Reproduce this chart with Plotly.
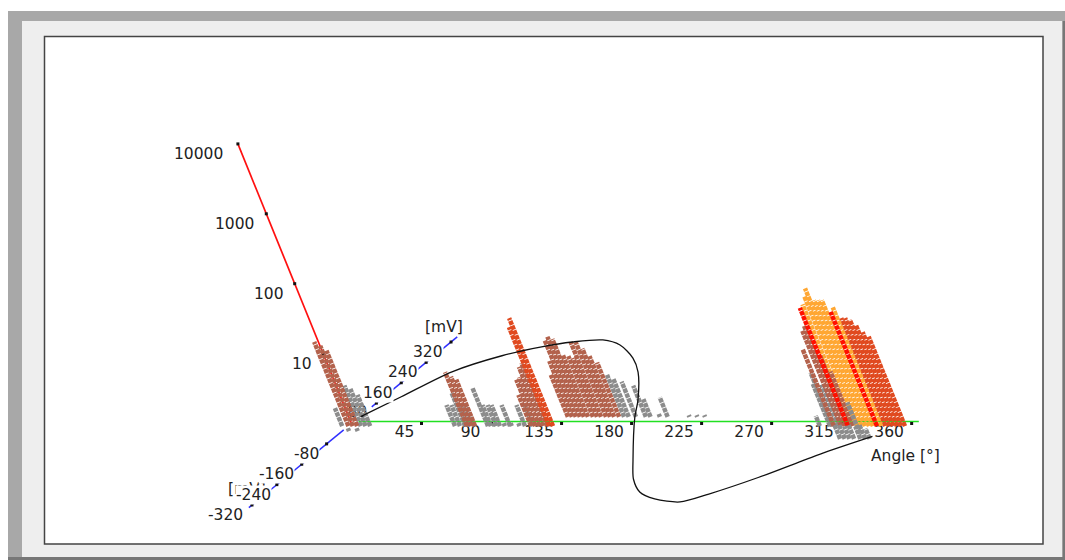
import math
import plotly.graph_objects as go

# ---- values: (angle deg, mV, count) per colour ----
gray_angle = [-4, 8, 11, 14, 4.4, 10,
              68.5, 71.7, 75, 77.5, 80.7, 89.7, 91.6, 94.9, 97.4, 103.9, 113.5, 118.6, 94, 100.6, 105, 110,
              170, 173, 177.6, 184, 187, 198, 193, 212, 217, 222,
              303, 309.5, 311, 314.6]
gray_mv = [-10, -10, -10, -10, -30, -30,
           -10, -10, -10, -10, -10, -10, -10, -10, -10, -10, -10, -10, -10, -10, -10, -10,
           26, 26, 26, 26, 26, 26, 26, 26, 26, 26,
           -10, -10, -10, -10]
gray_count = [1.8, 3.8, 3.4, 2.8, 1.1, 1.1,
              2, 2, 3, 2, 2, 3.5, 2, 2, 2, 2, 2, 2, 1.1, 1.1, 1.1, 1.1,
              4, 3.5, 3.2, 2.8, 1.8, 1.9, 1.1, 1.06, 1.06, 1.06,
              1.4, 4, 5.8, 3.9]

brown_angle = [0, 2.8, 5.6, 76.2, 78.8, 81.4, 117.4, 120, 122.5, 125, 127.7,
               133.9, 136.5, 139, 141.6, 144.2, 146.8, 150, 152.6, 155.2, 158.4, 161, 163.6, 166.8]
brown_mv = [-10, -10, -10, -10, -10, -10, -10, -10, -10, -10, -10,
            26, 26, 26, 26, 26, 26, 26, 26, 26, 26, 26, 26, 26]
brown_count = [16, 14, 12, 5.9, 5.1, 4.6, 2.8, 4.6, 5, 7, 8,
               4, 6.3, 12.6, 14, 13, 7.6, 7.4, 7, 11.7, 11.7, 9.5, 7.4, 6]

orange_angle = [323.6, 326.9, 329.4, 332, 334.6, 337.1, 342.3]
orange_mv = [-10, -10, -10, -10, -10, -10, -10]
orange_count = [55, 71, 93, 63, 63, 63, 50]

orangered_angle = [129, 131.5, 344.9, 347.4, 350, 352.5, 355, 357.7]
orangered_mv = [-10, -10, -10, -10, -10, -10, -10, -10]
orangered_count = [26, 35, 35, 35, 33, 28, 22, 19]

brown_front_angle = [312, 316.6, 319, 321.5, 324]
brown_front_mv = [-10, -10, -10, -10, -10]
brown_front_count = [12.6, 23, 27, 10, 6]

red_angle = [321, 339.7]
red_mv = [-10, -10]
red_count = [49, 43]

stub_angle = [326, 329, 332, 335, 339, 342, 345, 334.8]
stub_mv = [-60, -60, -60, -60, -60, -60, -60, -40]
stub_count = [1.6, 1.6, 1.5, 1.6, 1.5, 1.6, 1.4, 2.8]

curve_angle = [0.5, 11, 24, 43.5, 62, 78, 96, 111, 129.5, 143.8, 165.7, 177, 209.5, 225, 239, 254, 272.7, 285, 304, 325, 345]
curve_mv = [27, 105, 203, 266, 301, 320, 328, 308, 257, 202, 92, 25.5, -143, -219, -269, -296, -308, -277, -211, -121, -51]

angle_ticks = [45, 90, 135, 180, 225, 270, 315, 360]
mv_ticks = [-320, -240, -160, -80, 80, 160, 240, 320]
count_ticks = [10, 100, 1000, 10000]
mv_axis = [-330, -25, None, 65, 340]
angle_axis = [3, 363]
GREEN_MV = 8


# ---- oblique projection of (angle, mV, count) on the page ----
def px(a, m, c=1):
    return 351.5 + 1.556 * a + 0.311 * m - 28.4 * math.log10(c)


def py(a, m, c=1):
    return 423.5 - 0.2547 * m - 69.9 * math.log10(c)


def bars(angles, mvs, counts, color, name):
    xs, ys = [], []
    for a, m, c in zip(angles, mvs, counts):
        xs += [px(a, m), px(a, m, c), None]
        ys += [py(a, m), py(a, m, c), None]
    return go.Scatter(x=xs, y=ys, mode="lines", name=name, hoverinfo="skip",
                      line=dict(color=color, width=4.5, dash="4.4px,0.8px"))


fig = go.Figure()

# z axis
fig.add_trace(go.Scatter(x=[px(0, 0, 1), px(0, 0, 10000)], y=[py(0, 0, 1), py(0, 0, 10000)],
                         mode="lines", line=dict(color="#ff1010", width=1.7), hoverinfo="skip"))
# mV axis
fig.add_trace(go.Scatter(x=[None if m is None else px(0, m) for m in mv_axis],
                         y=[None if m is None else py(0, m) for m in mv_axis],
                         mode="lines", line=dict(color="#3030ff", width=1.5), hoverinfo="skip"))
# angle axis
fig.add_trace(go.Scatter(x=[px(a, GREEN_MV) for a in angle_axis], y=[py(a, GREEN_MV) for a in angle_axis],
                         mode="lines", line=dict(color="#22e022", width=1.6), hoverinfo="skip"))
# tick squares
tx = [px(a, 0) for a in angle_ticks] + [px(0, m) for m in mv_ticks] + [px(0, 0, c) for c in count_ticks]
ty = [py(a, 0) for a in angle_ticks] + [py(0, m) for m in mv_ticks] + [py(0, 0, c) for c in count_ticks]
fig.add_trace(go.Scatter(x=tx, y=ty, mode="markers", hoverinfo="skip",
                         marker=dict(symbol="square", size=3, color="#111111")))

FONT = dict(family="DejaVu Sans", size=15.5, color="#222222")

# labels that lie under the bars
under = [(str(a), px(a, 0) - (17 if a == 45 else 21 if a == 90 else 22.5), py(a, 0) + 10) for a in angle_ticks]
under += [("80", px(0, 80) - 19, py(0, 80) + 10)]
fig.add_trace(go.Scatter(x=[u[1] for u in under], y=[u[2] for u in under], text=[u[0] for u in under],
                         mode="text", textposition="middle center", hoverinfo="skip", textfont=FONT))

fig.add_trace(bars(gray_angle, gray_mv, gray_count, "#8c8c8c", "gray"))
fig.add_trace(bars(brown_angle, brown_mv, brown_count, "#b3624c", "brown"))
fig.add_trace(bars(orangered_angle, orangered_mv, orangered_count, "#e04a20", "orangered"))
fig.add_trace(bars(orange_angle, orange_mv, orange_count, "#ffa733", "orange"))
fig.add_trace(bars(brown_front_angle, brown_front_mv, brown_front_count, "#b3624c", "brown front"))
fig.add_trace(bars(red_angle, red_mv, red_count, "#ff1000", "red"))
fig.add_trace(bars(stub_angle, stub_mv, stub_count, "#8c8c8c", "gray front"))

fig.add_trace(go.Scatter(x=[px(a, m) for a, m in zip(curve_angle, curve_mv)],
                         y=[py(a, m) for a, m in zip(curve_angle, curve_mv)],
                         mode="lines", hoverinfo="skip",
                         line=dict(color="#111111", width=1.3, shape="spline", smoothing=0.8)))


def label(text, x, y, bg=True):
    fig.add_annotation(x=x, y=y, xref="x", yref="y", text=text, showarrow=False, font=FONT,
                       xanchor="center", yanchor="middle", borderpad=0,
                       bgcolor="white" if bg else None)


label("[mV]", 247, 489, bg=False)
mv_offsets = {-320: -26, -240: -23, -160: -25, -80: -20, 160: -23, 240: -23, 320: -23}
for m in mv_ticks:
    if m != 80:
        label(str(m), px(0, m) + mv_offsets[m], py(0, m) + 10)
count_offsets = {10: -21, 100: -26, 1000: -32, 10000: -39}
for c in count_ticks:
    label(str(c), px(0, 0, c) + count_offsets[c], py(0, 0, c) + 10, bg=False)
label("[mV]", 444, 327, bg=False)
label("Angle [°]", 905, 456, bg=False)

# window frame
frame = [
    dict(x0=8, y0=11, x1=1065, y1=560, fillcolor="#a8a8a8"),
    dict(x0=22, y0=21, x1=1062.5, y1=557, fillcolor="#eeeeee"),
    dict(x0=1062.5, y0=21, x1=1065, y1=560, fillcolor="#777777"),
    dict(x0=8, y0=557, x1=1065, y1=560, fillcolor="#777777"),
    dict(x0=44.5, y0=36.5, x1=1043, y1=544, fillcolor="white",
         line=dict(color="#444444", width=1.5)),
]
for f in frame:
    fig.add_shape(type="rect", xref="x", yref="y", layer="below",
                  **{"line": dict(width=0), **f})

fig.update_layout(width=1065, height=560, margin=dict(l=0, r=0, t=0, b=0), showlegend=False,
                  paper_bgcolor="white", plot_bgcolor="white",
                  xaxis=dict(range=[0, 1065], visible=False, fixedrange=True),
                  yaxis=dict(range=[560, 0], visible=False, fixedrange=True))

fig.write_html("out.html", post_script="document.body.style.margin='0';", config={"displayModeBar": False})
